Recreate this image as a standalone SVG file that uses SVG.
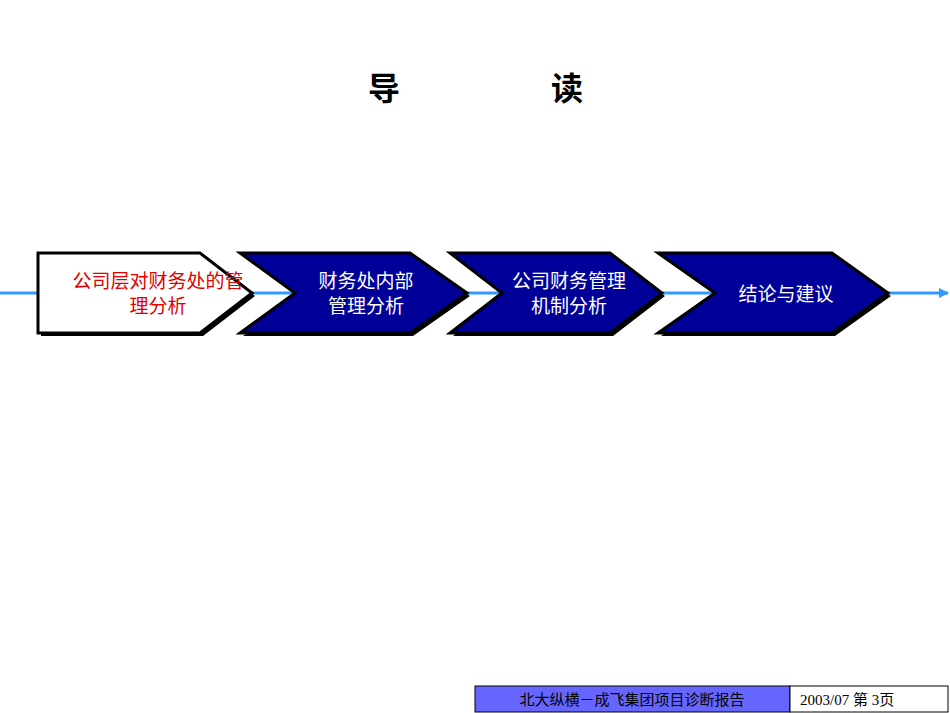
<svg xmlns="http://www.w3.org/2000/svg" width="950" height="713" viewBox="0 0 950 713">
<style>
.t{font-family:"Liberation Sans","Noto Sans CJK SC",sans-serif;font-size:19px;text-anchor:middle}
.w{fill:#fff}
.blue{fill:#000099;stroke:#000;stroke-width:3}
.sh{fill:#000}
.f{font-family:"Liberation Serif","Noto Sans CJK SC",serif;font-size:15px}
</style>
<defs><marker id="ar" markerWidth="10" markerHeight="10" refX="9" refY="5" orient="auto" markerUnits="userSpaceOnUse"><path d="M0,0L10,5L0,10z" fill="#3399ff"/></marker></defs>
<text x="384" y="100" style="font-family:'Noto Sans CJK SC',sans-serif;font-size:32px;font-weight:bold" text-anchor="middle">导</text>
<text x="567" y="100" style="font-family:'Noto Sans CJK SC',sans-serif;font-size:32px;font-weight:bold" text-anchor="middle">读</text>
<g id="connectors"><line x1="0" y1="293" x2="948" y2="293" stroke="#3399ff" stroke-width="3" marker-end="url(#ar)"/></g>
<g id="n1">
<path class="sh" d="M41,256H203L255,296L203,336H41z"/>
<path d="M38,253H200L252,293L200,333H38z" fill="#fff" stroke="#000" stroke-width="3"/>
<text class="t" x="158" y="288" fill="#e00000">公司层对财务处的管</text>
<text class="t" x="158" y="313" fill="#e00000">理分析</text>
</g>
<g id="n2">
<path class="sh" d="M243,256H413L470,296L413,336H243L298,296z"/>
<path class="blue" d="M240,253H410L467,293L410,333H240L295,293z"/>
<text class="t w" x="366" y="288">财务处内部</text>
<text class="t w" x="366" y="313">管理分析</text>
</g>
<g id="n3">
<path class="sh" d="M453,256H613L665,296L613,336H453L505,296z"/>
<path class="blue" d="M450,253H610L662,293L610,333H450L502,293z"/>
<text class="t w" x="569" y="288">公司财务管理</text>
<text class="t w" x="569" y="313">机制分析</text>
</g>
<g id="n4">
<path class="sh" d="M661,256H835L891,296L835,336H661L718,296z"/>
<path class="blue" d="M658,253H832L888,293L832,333H658L715,293z"/>
<text class="t w" x="786" y="301">结论与建议</text>
</g>
<g id="footer">
<rect x="475" y="686" width="315" height="26" fill="#6666ff" stroke="#000"/>
<rect x="790" y="686" width="158" height="26" fill="#fff" stroke="#000"/>
<text class="f" x="632" y="705" text-anchor="middle">北大纵横－成飞集团项目诊断报告</text>
<text class="f" x="800" y="705">2003/07 第 3页</text>
</g>
</svg>
